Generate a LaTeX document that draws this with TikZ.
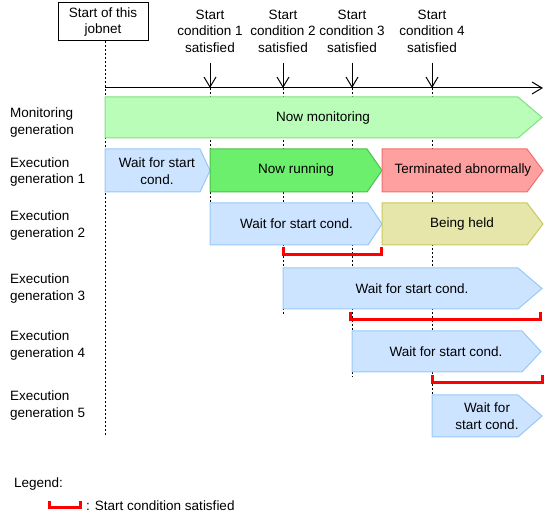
\documentclass[tikz,border=0pt]{standalone}
\usepackage{fontspec}
\setmainfont{Liberation Sans}
\usetikzlibrary{arrows.meta}
\definecolor{monfill}{HTML}{B9FDB9}
\definecolor{mondraw}{HTML}{80E080}
\definecolor{runfill}{HTML}{6CEF6C}
\definecolor{rundraw}{HTML}{4CC04C}
\definecolor{abnfill}{HTML}{FFA0A0}
\definecolor{abndraw}{HTML}{F07070}
\definecolor{waitfill}{HTML}{CCE4FF}
\definecolor{waitdraw}{HTML}{99C8F8}
\definecolor{heldfill}{HTML}{E6E6AA}
\definecolor{helddraw}{HTML}{C8C860}
\definecolor{satred}{HTML}{FF0000}
\newcommand\chevshape[6]{\filldraw[#6] (#1,#4) -- (#2,#4) -- (#3,{(#4+#5)/2}) -- (#2,#5) -- (#1,#5) -- cycle;}
\tikzset{
  mon/.style={fill=monfill,draw=mondraw,line width=1pt},
  run/.style={fill=runfill,draw=rundraw,line width=1pt},
  abn/.style={fill=abnfill,draw=abndraw,line width=1pt},
  wait/.style={fill=waitfill,draw=waitdraw,line width=1pt},
  held/.style={fill=heldfill,draw=helddraw,line width=1pt},
  guide/.style={line width=1pt,dash pattern=on 2pt off 2pt},
  condarrow/.style={line width=1pt,-{Straight Barb[length=10pt,width=12pt,line width=1pt]}},
  satbracket/.style={draw=satred,line width=3pt},
  rowlabel/.style={anchor=west,align=left,inner sep=0pt,yshift=-1pt},
  txt/.style={align=center,inner sep=0pt,yshift=-1pt},
}
\begin{document}
\begin{tikzpicture}[x=1pt,y=-1pt,font=\fontsize{13.5}{16.5}\selectfont]
\useasboundingbox (0,0) rectangle (552,529);
% start box
\node[draw,line width=1pt,minimum width=90pt,minimum height=38pt,align=center,inner sep=0pt] (startbox) at (103,22) {Start of this\\jobnet};
% condition labels
\node[txt] (l1) at (210,30) {Start\\condition 1\\satisfied};
\node[txt] (l2) at (283,30) {Start\\condition 2\\satisfied};
\node[txt] (l3) at (352,30) {Start\\condition 3\\satisfied};
\node[txt] (l4) at (432,30) {Start\\condition 4\\satisfied};
% coordinates
\coordinate (t0) at (105,88);
\coordinate (tend) at (543,88);
\coordinate (c1top) at (210,63); \coordinate (c1) at (210,88);
\coordinate (c2top) at (283,63); \coordinate (c2) at (283,88);
\coordinate (c3top) at (352,63); \coordinate (c3) at (352,88);
\coordinate (c4top) at (432,63); \coordinate (c4) at (432,88);
\coordinate (s0end) at (105,437);
\coordinate (c1end) at (210,245);
\coordinate (c2end) at (283,315);
\coordinate (c3end) at (352,377);
\coordinate (c4end) at (432,437);
% guides
\draw[guide] (startbox.south -| t0) -- (s0end);
\draw[guide] (c1) -- (c1end);
\draw[guide] (c2) -- (c2end);
\draw[guide] (c3) -- (c3end);
\draw[guide] (c4) -- (c4end);
% timeline
\draw[condarrow] (t0) -- (tend);
\draw[condarrow] (c1top) -- (c1);
\draw[condarrow] (c2top) -- (c2);
\draw[condarrow] (c3top) -- (c3);
\draw[condarrow] (c4top) -- (c4);
% row labels
\node[rowlabel] (r0) at (10,121.5) {Monitoring\\generation};
\node[rowlabel] (r1) at (10,171) {Execution\\generation 1};
\node[rowlabel] (r2) at (10,224.5) {Execution\\generation 2};
\node[rowlabel] (r3) at (10,287.5) {Execution\\generation 3};
\node[rowlabel] (r4) at (10,344.5) {Execution\\generation 4};
\node[rowlabel] (r5) at (10,404.5) {Execution\\generation 5};
% shapes
\chevshape{105}{518}{542}{97}{138}{mon}
\chevshape{105}{200}{210}{149}{192}{wait}
\chevshape{210}{367}{382}{149}{192}{run}
\chevshape{382}{527}{543}{149}{192}{abn}
\chevshape{210}{368}{382}{203}{245}{wait}
\chevshape{382}{527}{543}{203}{245}{held}
\chevshape{283}{518}{542}{268}{309}{wait}
\chevshape{352}{522}{541}{331}{372}{wait}
\chevshape{432}{518}{542}{395}{437}{wait}
% shape texts
\node[txt] (tmon) at (323,117) {Now monitoring};
\node[txt] (tw1) at (157,170) {Wait for start\\cond.};
\node[txt] (trun) at (296,169) {Now running};
\node[txt] (tabn) at (463,169) {Terminated abnormally};
\node[txt] (tw2) at (296.5,223) {Wait for start cond.};
\node[txt] (thld) at (462,223) {Being held};
\node[txt] (tw3) at (412,288) {Wait for start cond.};
\node[txt] (tw4) at (446,351) {Wait for start cond.};
\node[txt] (tw5) at (487,415) {Wait for\\start cond.};
% brackets
\draw[satbracket] (283,247) -- (283,255) -- (381,255) -- (381,247);
\draw[satbracket] (350,312) -- (350,320) -- (540,320) -- (540,312);
\draw[satbracket] (432,375) -- (432,383) -- (542,383) -- (542,375);
% legend
\node[rowlabel] (leg) at (14,483) {Legend:};
\draw[satbracket] (49,501) -- (49,507) -- (80,507) -- (80,501);
\node[rowlabel] (legtxt) at (86,505) {: Start condition satisfied};
\end{tikzpicture}
\end{document}
